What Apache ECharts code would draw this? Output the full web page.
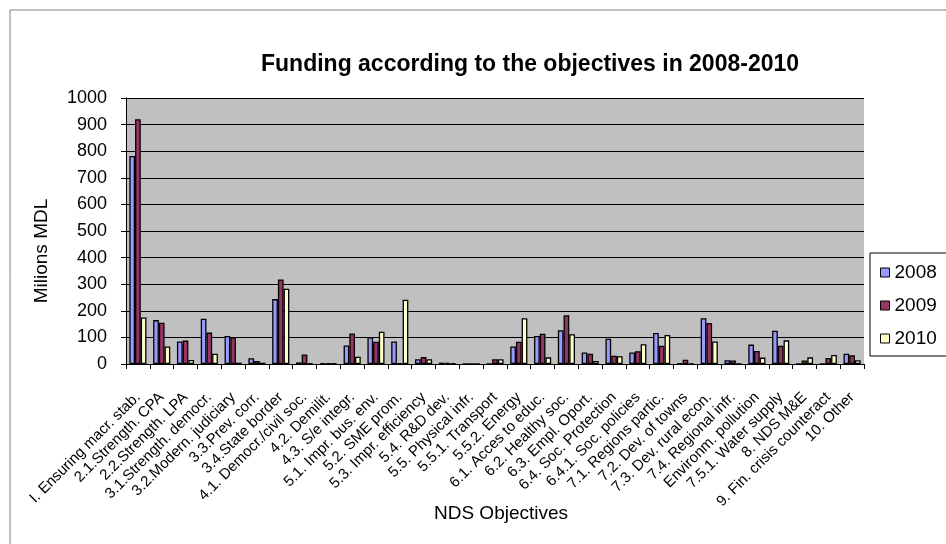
<!DOCTYPE html>
<html>
<head>
<meta charset="utf-8">
<script src="https://cdn.jsdelivr.net/npm/echarts@6/dist/echarts.min.js"></script>
<style>html,body{margin:0;padding:0;background:#fff}#c{width:946px;height:544px}</style>
</head>
<body>
<div id="c"></div>
<script>
var categories = ["I. Ensuring macr. stab.","2.1.Strength. CPA","2.2.Strength. LPA","3.1.Strength. democr.","3.2.Modern. judiciary","3.3.Prev. corr.","3.4.State border","4.1. Democr./civil soc.","4.2. Demilit.","4.3. S/e integr.","5.1. Impr. bus. env.","5.2. SME prom.","5.3. Impr. efficiency","5.4. R&D dev.","5.5. Physical infr.","5.5.1. Transport","5.5.2. Energy","6.1. Acces to educ.","6.2. Healthy soc.","6.3. Empl. Oport.","6.4. Soc. Protection","6.4.1. Soc. policies","7.1. Regions partic.","7.2. Dev. of towns","7.3. Dev. rural econ.","7.4. Regional infr.","Environm. pollution","7.5.1. Water supply","8. NDS M&E","9. Fin. crisis counteract","10. Other"];
var values2008 = [782,165,85,170,105,22,244,6,3,70,101,85,18,5,0,0,66,105,127,43,95,43,117,2,172,14,73,125,1,0,39];
var values2009 = [920,155,88,118,101,11,318,36,2,115,84,2,26,4,0,18,84,114,183,39,31,48,69,16,154,13,49,69,13,23,33];
var values2010 = [175,66,15,39,5,5,283,3,2,27,121,242,18,2,0,18,172,25,112,11,29,74,109,1,85,0,24,89,25,34,14];
var seriesNames = ["2008","2009","2010"];
var seriesColors = ["#9999ff","#993366","#ffffcc"];
var yTicks = [0,100,200,300,400,500,600,700,800,900,1000];

var font = "Liberation Sans, Arial, sans-serif";
var chart = echarts.init(document.getElementById('c'), null, {renderer:'canvas'});
var dataSets = [values2008, values2009, values2010];
var series = dataSets.map(function(d, i){
  return {
    name: seriesNames[i], type: 'bar', data: d,
    barGap: '0%', barCategoryGap: '28%',
    itemStyle: {color: seriesColors[i], borderColor: '#000', borderWidth: 1.3},
    emphasis: {disabled: true}
  };
});
chart.setOption({
  animation: false,
  backgroundColor: '#fff',
  graphic: [{
    type: 'rect', shape: {x: 10, y: 10, width: 960, height: 560},
    style: {fill: 'none', stroke: '#808080', lineWidth: 1}, silent: true, z: -1
  }, {
    type: 'text', x: 42, y: 251, rotation: Math.PI / 2,
    style: {text: 'Milions MDL', font: '19px ' + font, fill: '#000', align: 'center', verticalAlign: 'middle'},
    silent: true
  }, {
    type: 'text', x: 501, y: 514,
    style: {text: 'NDS Objectives', font: '19px ' + font, fill: '#000', align: 'center', verticalAlign: 'middle'},
    silent: true
  }],
  title: {
    text: 'Funding according to the objectives in 2008-2010',
    left: 256, top: 48,
    textStyle: {fontFamily: font, fontSize: 23, fontWeight: 'bold', color: '#000'}
  },
  legend: {
    orient: 'vertical', left: 870, top: 253,
    padding: [10, 14, 8, 10], itemGap: 14, itemTextGap: 4,
    borderColor: '#000', borderWidth: 1, backgroundColor: '#fff',
    itemWidth: 9, itemHeight: 9, icon: 'rect',
    itemStyle: {borderColor: '#000', borderWidth: 1},
    textStyle: {fontFamily: font, fontSize: 19, color: '#000'},
    data: seriesNames
  },
  grid: {left: 126, right: 82, top: 98, bottom: 180, show: true, backgroundColor: '#c0c0c0', borderWidth: 0},
  xAxis: {
    type: 'category', data: categories,
    axisLine: {lineStyle: {color: '#000', width: 1}},
    axisTick: {show: true, alignWithLabel: false, length: 5, lineStyle: {color: '#000'}},
    axisLabel: {interval: 0, rotate: 45, fontFamily: font, fontSize: 15, color: '#000', margin: 31}
  },
  yAxis: {
    type: 'value', min: 0, max: 1000, interval: 100,
    axisLine: {show: true, lineStyle: {color: '#000', width: 1}},
    axisTick: {show: true, length: 5, lineStyle: {color: '#000'}},
    axisLabel: {fontFamily: font, fontSize: 18, color: '#000', margin: 19,
      formatter: function(v){ return yTicks.indexOf(v) >= 0 ? String(v) : ''; }},
    splitLine: {show: true, lineStyle: {color: '#000', width: 1}}
  },
  series: series
});
</script>
</body>
</html>
